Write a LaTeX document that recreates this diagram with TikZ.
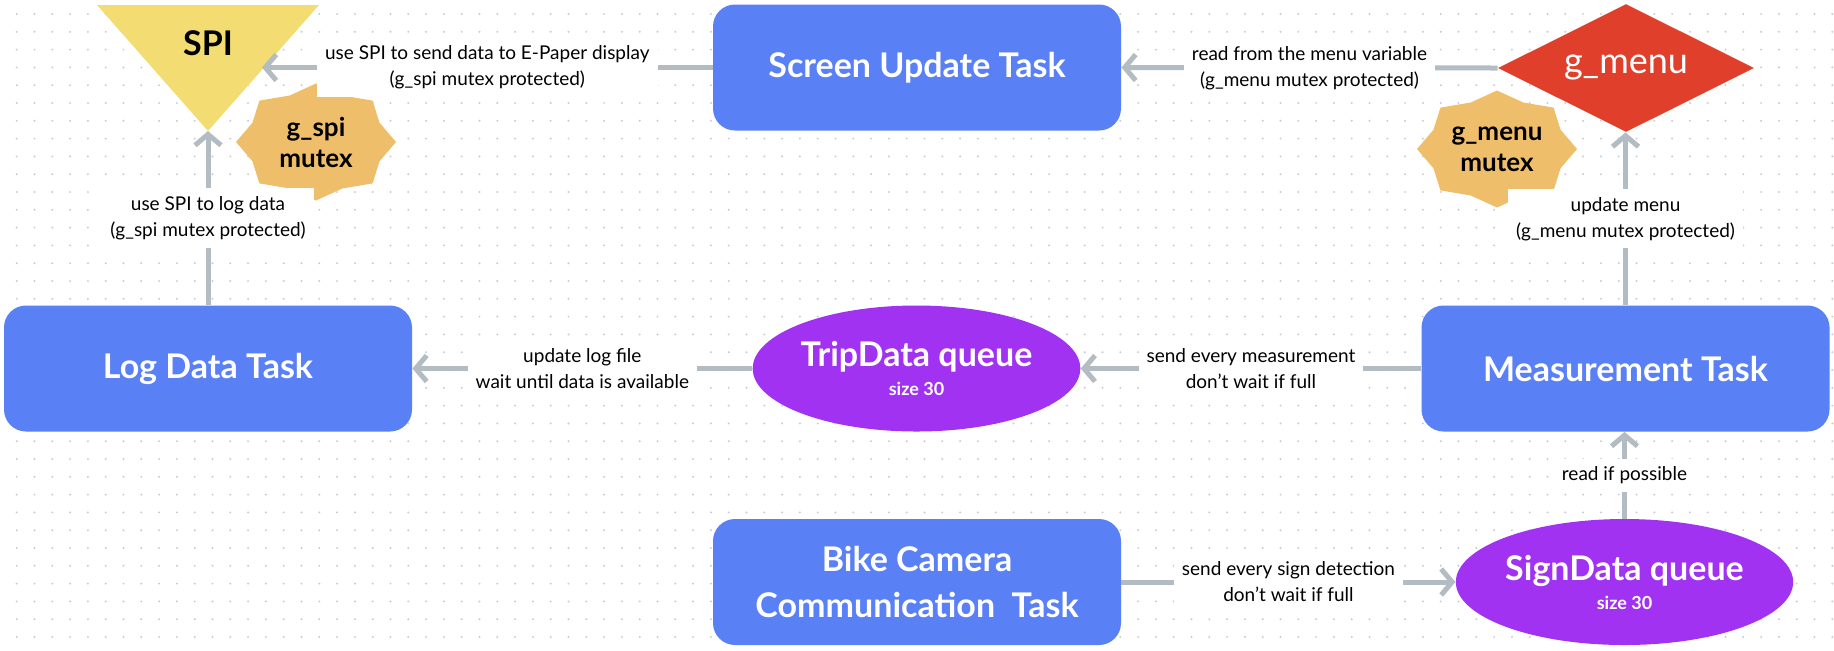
\documentclass[tikz,border=0pt]{standalone}
\usepackage{fontspec}
\setmainfont{Lato}
\usetikzlibrary{shapes.geometric,arrows.meta}

\definecolor{taskblue}{RGB}{90,128,245}
\definecolor{queuepurple}{RGB}{161,50,242}
\definecolor{menured}{RGB}{224,64,43}
\definecolor{spiyellow}{RGB}{243,220,114}
\definecolor{mutexorange}{RGB}{239,190,106}
\definecolor{arrowgray}{RGB}{180,188,195}
\definecolor{dotgray}{RGB}{200,204,214}

\newcommand{\mutexshape}[2]{%
  \fill[mutexorange] plot[samples at={0,...,15}, variable=\k]
    ({#1+80*(1-0.14*mod(\k,2))*cos(90+22.5*\k)}, {#2+58.5*(1-0.14*mod(\k,2))*sin(90+22.5*\k)}) -- cycle;}

\tikzset{
  task/.style={rectangle, rounded corners=11pt, fill=taskblue, text=white, minimum width=204pt, minimum height=63pt, align=center, font=\bfseries\fontsize{17}{23}\selectfont},
  queue/.style={ellipse, fill=queuepurple, text=white, minimum width=160pt, minimum height=63pt, inner sep=0pt, align=center, font=\bfseries\fontsize{9}{14.5}\selectfont},
  mutexlabel/.style={align=center, font=\bfseries\fontsize{13}{15.5}\selectfont},
  flow/.style={draw=arrowgray, line width=2.5pt, -{Straight Barb[length=5.5pt,width=13pt]}},
  lbl/.style={fill=white, inner sep=4pt, align=center, font=\fontsize{9.5}{13}\selectfont},
}

\begin{document}
\begin{tikzpicture}[x=0.5pt, y=-0.5pt]
    \fill[white] (0,0) rectangle (1834,650);
    \useasboundingbox (0,0) rectangle (1834,650);
    \foreach \i in {0,...,102}
        \foreach \j in {0,...,35}
            \fill[dotgray] (16.7+17.8*\i, 14+17.8*\j) circle (0.55pt);

    \fill[spiyellow] (97,5) -- (319,5) -- (208,131) -- cycle;
    \node[font=\bfseries\fontsize{17}{20}\selectfont] (spi) at (208,43) {SPI};
    \coordinate (spiapex) at (208,131);
    \coordinate (spiside) at (262,67.5);
    \node[diamond, aspect=2, fill=menured, text=white, minimum width=128pt, minimum height=64pt, inner sep=0pt, font=\fontsize{18}{20}\selectfont] (gmenu) at (1626,68) {g\_menu};

    \mutexshape{316}{142}
    \node[mutexlabel] (spimutex) at (316,142) {g\_spi\\mutex};
    \mutexshape{1497}{149}
    \node[mutexlabel] (menumutex) at (1497,149) {g\_menu\\mutex};

    \node[task] (screen) at (917,67.5) {Screen Update Task};
    \node[task] (logtask) at (208,368.5) {Log Data Task};
    \node[task] (meas) at (1625.5,368.5) {Measurement Task};
    \node[task] (bike) at (917,582) {Bike Camera\\Communication~ Task};

    \node[queue] (trip) at (916.5,368.5) {{\fontsize{17}{14.5}\selectfont TripData queue}\\size 30};
    \node[queue, minimum width=162.5pt] (sign) at (1624.5,582) {{\fontsize{17}{14.5}\selectfont SignData queue}\\size 30};

    \draw[flow] (screen.west) -- node[lbl] {use SPI to send data to E-Paper display\\(g\_spi mutex protected)} (spiside);
    \draw[flow] (gmenu.west) -- node[lbl] {read from the menu variable\\(g\_menu mutex protected)} (screen.east);
    \draw[flow] (logtask.north) -- node[lbl] {use SPI to log data\\(g\_spi mutex protected)} (spiapex);
    \draw[flow] (meas.north) -- node[lbl] {update menu\\(g\_menu mutex protected)} (meas.north |- gmenu.south);
    \draw[flow] (trip.west) -- node[lbl] {update log file\\wait until data is available} (logtask.east);
    \draw[flow] (meas.west) -- node[lbl] {send every measurement\\don’t wait if full} (trip.east);
    \draw[flow] (bike.east) -- node[lbl] {send every sign detection\\don’t wait if full} (sign.west);
    \draw[flow] (sign.north) -- node[lbl] {read if possible} (sign.north |- meas.south);
\end{tikzpicture}
\end{document}
